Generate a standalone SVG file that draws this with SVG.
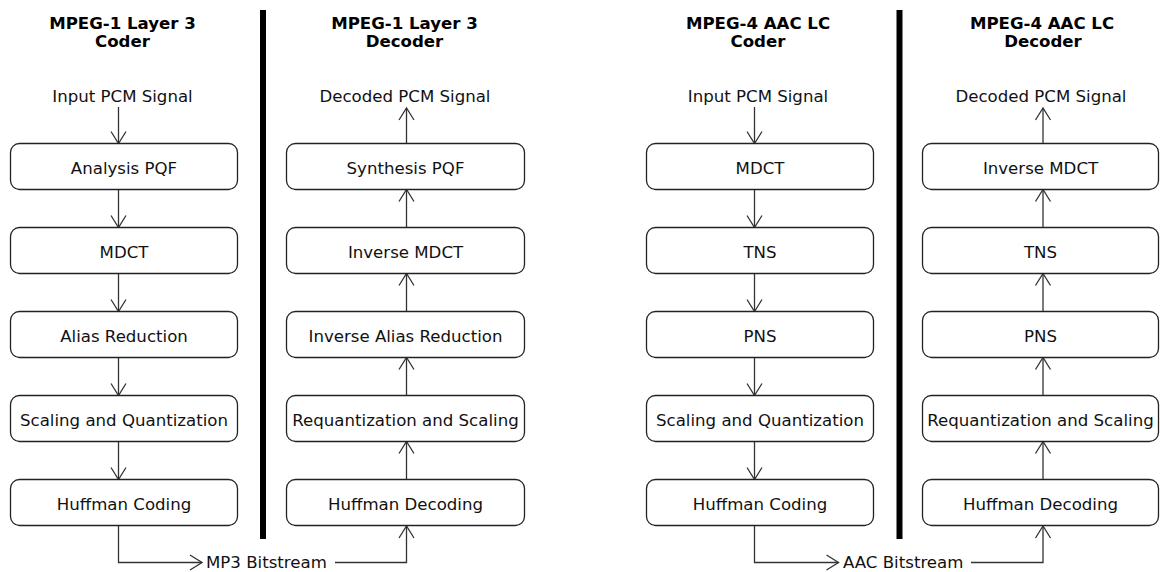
<svg xmlns="http://www.w3.org/2000/svg" width="1160" height="572" viewBox="0 0 1160 572">
<style>
.box{fill:#fff;stroke:#222;stroke-width:1.3}
.t{font-family:"DejaVu Sans",sans-serif;font-size:16.6px;fill:#111;text-anchor:middle}
.s{font-family:"DejaVu Sans",sans-serif;font-size:16.6px;fill:#111}
.h{font-family:"DejaVu Sans",sans-serif;font-size:16.6px;font-weight:bold;fill:#000;text-anchor:middle}
.c{fill:none;stroke:#333;stroke-width:1.3}
.bar{fill:#000}
</style>
<defs>
<marker id="a" viewBox="0 0 12 16" refX="12" refY="8" markerWidth="12" markerHeight="16" markerUnits="userSpaceOnUse" orient="auto" overflow="visible">
<path d="M0,0.5 L12,8 L0,15.5" fill="none" stroke="#333" stroke-width="1.3"/>
</marker>
</defs>
<g id="headings">
<text class="h" x="122.5" y="29.3">MPEG-1 Layer 3</text>
<text class="h" x="122.5" y="46.5">Coder</text>
<text class="h" x="404.5" y="29.3">MPEG-1 Layer 3</text>
<text class="h" x="404.5" y="46.5">Decoder</text>
<text class="h" x="758" y="29.3">MPEG-4 AAC LC</text>
<text class="h" x="758" y="46.5">Coder</text>
<text class="h" x="1042" y="29.3">MPEG-4 AAC LC</text>
<text class="h" x="1043" y="46.5">Decoder</text>
</g>
<g id="dividers">
<rect class="bar" x="260" y="10" width="6" height="529"/>
<rect class="bar" x="896.5" y="10" width="6" height="529"/>
</g>
<g id="signals">
<text id="mp3-in" class="t" x="122.5" y="101.7">Input PCM Signal</text>
<text id="mp3-out" class="t" x="405" y="101.7">Decoded PCM Signal</text>
<text id="aac-in" class="t" x="758" y="101.7">Input PCM Signal</text>
<text id="aac-out" class="t" x="1041" y="101.7">Decoded PCM Signal</text>
<text id="mp3-bs" class="s" x="206" y="568.3">MP3 Bitstream</text>
<text id="aac-bs" class="s" x="843" y="568.3">AAC Bitstream</text>
</g>
<g id="connectors">
<path class="c" marker-end="url(#a)" d="M118.5,107 V143.5"/>
<path class="c" marker-end="url(#a)" d="M118.5,189.5 V227.5"/>
<path class="c" marker-end="url(#a)" d="M118.5,273.5 V311.5"/>
<path class="c" marker-end="url(#a)" d="M118.5,357.5 V395.5"/>
<path class="c" marker-end="url(#a)" d="M118.5,441.5 V479.5"/>
<path class="c" marker-end="url(#a)" d="M118.5,525.5 V562.5 H202"/>
<path class="c" marker-end="url(#a)" d="M335,562.5 H406.5 V526"/>
<path class="c" marker-end="url(#a)" d="M406.5,479.5 V441.5"/>
<path class="c" marker-end="url(#a)" d="M406.5,395.5 V357.5"/>
<path class="c" marker-end="url(#a)" d="M406.5,311.5 V273.5"/>
<path class="c" marker-end="url(#a)" d="M406.5,227.5 V189.5"/>
<path class="c" marker-end="url(#a)" d="M406.5,143.5 V108"/>
<path class="c" marker-end="url(#a)" d="M754.5,107 V143.5"/>
<path class="c" marker-end="url(#a)" d="M754.5,189.5 V227.5"/>
<path class="c" marker-end="url(#a)" d="M754.5,273.5 V311.5"/>
<path class="c" marker-end="url(#a)" d="M754.5,357.5 V395.5"/>
<path class="c" marker-end="url(#a)" d="M754.5,441.5 V479.5"/>
<path class="c" marker-end="url(#a)" d="M754.5,525.5 V562.5 H838.5"/>
<path class="c" marker-end="url(#a)" d="M971,562.5 H1043 V526"/>
<path class="c" marker-end="url(#a)" d="M1043,479.5 V441.5"/>
<path class="c" marker-end="url(#a)" d="M1043,395.5 V357.5"/>
<path class="c" marker-end="url(#a)" d="M1043,311.5 V273.5"/>
<path class="c" marker-end="url(#a)" d="M1043,227.5 V189.5"/>
<path class="c" marker-end="url(#a)" d="M1043,143.5 V108"/>
</g>
<g id="mp3-analysis-pqf"><rect class="box" x="10.5" y="143.5" width="227" height="46" rx="9"/><text class="t" x="124" y="173.5">Analysis PQF</text></g>
<g id="mp3-mdct"><rect class="box" x="10.5" y="227.5" width="227" height="46" rx="9"/><text class="t" x="124" y="257.5">MDCT</text></g>
<g id="mp3-alias"><rect class="box" x="10.5" y="311.5" width="227" height="46" rx="9"/><text class="t" x="124" y="341.5">Alias Reduction</text></g>
<g id="mp3-quant"><rect class="box" x="10.5" y="395.5" width="227" height="46" rx="9"/><text class="t" x="124" y="425.5">Scaling and Quantization</text></g>
<g id="mp3-huff"><rect class="box" x="10.5" y="479.5" width="227" height="46" rx="9"/><text class="t" x="124" y="509.5">Huffman Coding</text></g>
<g id="mp3d-synth"><rect class="box" x="286.5" y="143.5" width="238" height="46" rx="9"/><text class="t" x="405.5" y="173.5">Synthesis PQF</text></g>
<g id="mp3d-imdct"><rect class="box" x="286.5" y="227.5" width="238" height="46" rx="9"/><text class="t" x="405.5" y="257.5">Inverse MDCT</text></g>
<g id="mp3d-alias"><rect class="box" x="286.5" y="311.5" width="238" height="46" rx="9"/><text class="t" x="405.5" y="341.5">Inverse Alias Reduction</text></g>
<g id="mp3d-requant"><rect class="box" x="286.5" y="395.5" width="238" height="46" rx="9"/><text class="t" x="405.5" y="425.5">Requantization and Scaling</text></g>
<g id="mp3d-huff"><rect class="box" x="286.5" y="479.5" width="238" height="46" rx="9"/><text class="t" x="405.5" y="509.5">Huffman Decoding</text></g>
<g id="aac-mdct"><rect class="box" x="646.5" y="143.5" width="227" height="46" rx="9"/><text class="t" x="760" y="173.5">MDCT</text></g>
<g id="aac-tns"><rect class="box" x="646.5" y="227.5" width="227" height="46" rx="9"/><text class="t" x="760" y="257.5">TNS</text></g>
<g id="aac-pns"><rect class="box" x="646.5" y="311.5" width="227" height="46" rx="9"/><text class="t" x="760" y="341.5">PNS</text></g>
<g id="aac-quant"><rect class="box" x="646.5" y="395.5" width="227" height="46" rx="9"/><text class="t" x="760" y="425.5">Scaling and Quantization</text></g>
<g id="aac-huff"><rect class="box" x="646.5" y="479.5" width="227" height="46" rx="9"/><text class="t" x="760" y="509.5">Huffman Coding</text></g>
<g id="aacd-imdct"><rect class="box" x="922.5" y="143.5" width="236" height="46" rx="9"/><text class="t" x="1040.5" y="173.5">Inverse MDCT</text></g>
<g id="aacd-tns"><rect class="box" x="922.5" y="227.5" width="236" height="46" rx="9"/><text class="t" x="1040.5" y="257.5">TNS</text></g>
<g id="aacd-pns"><rect class="box" x="922.5" y="311.5" width="236" height="46" rx="9"/><text class="t" x="1040.5" y="341.5">PNS</text></g>
<g id="aacd-requant"><rect class="box" x="922.5" y="395.5" width="236" height="46" rx="9"/><text class="t" x="1040.5" y="425.5">Requantization and Scaling</text></g>
<g id="aacd-huff"><rect class="box" x="922.5" y="479.5" width="236" height="46" rx="9"/><text class="t" x="1040.5" y="509.5">Huffman Decoding</text></g>
</svg>
